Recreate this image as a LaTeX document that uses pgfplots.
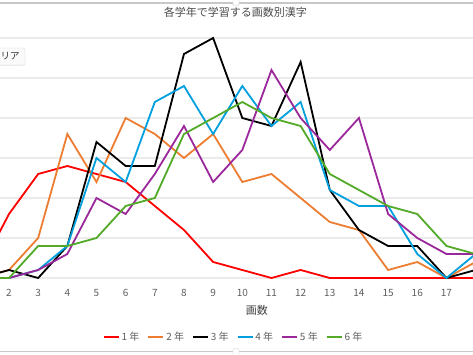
\documentclass[border=0pt]{standalone}
\usepackage{fontspec}
\setmainfont{Noto Sans CJK JP}
\usepackage{pgfplots}
\pgfplotsset{compat=1.18}
\usetikzlibrary{shadows}
\definecolor{c1}{RGB}{255,0,0}
\definecolor{c2}{RGB}{237,125,49}
\definecolor{c3}{RGB}{0,0,0}
\definecolor{c4}{RGB}{0,160,222}
\definecolor{c5}{RGB}{155,40,155}
\definecolor{c6}{RGB}{82,170,40}
\definecolor{gridc}{RGB}{235,235,235}
\definecolor{txt}{RGB}{95,95,95}
\definecolor{uil}{RGB}{200,200,200}
\begin{document}
\begin{tikzpicture}
\path[use as bounding box] (0,0) rectangle (473bp,355bp);
\fill[white] (0,0) rectangle (473bp,355bp);
\draw[uil, line width=1.3bp] (0,352bp) -- (473bp,352bp);
\draw[uil, line width=1.3bp] (0,3.7bp) -- (473bp,3.7bp);
\begin{axis}[
  at={(0bp,73.8bp)}, anchor=south west, scale only axis,
  width=473bp, height=246.4bp,
  xmin=1.6913, xmax=17.9106, ymin=-0.4, ymax=30.4,
  xtick={2,...,17}, ytick={0,5,...,30}, yticklabels={},
  axis line style={draw=none}, major tick length=0pt,
  ymajorgrids, grid style={gridc, line width=1.5bp},
  /pgf/number format/assume math mode=true,
  ticklabel style={font=\fontsize{10bp}{12bp}\selectfont, text=txt},
  xticklabel style={anchor=center, yshift=-12.1bp},
  title={各学年で学習する画数別漢字},
  title style={at={(axis description cs:0.4975,1.067)}, anchor=center, font=\fontsize{11bp}{13bp}\selectfont, text=black!70},
  xlabel={画数},
  xlabel style={at={(axis description cs:0.5433,-0.1169)}, anchor=center, font=\fontsize{11bp}{13bp}\selectfont, text=black!75},
  legend columns=6,
  legend style={at={(axis description cs:0.2171,-0.2252)}, anchor=west, draw=none, fill=none, inner sep=0pt,
    font=\fontsize{10bp}{12bp}\selectfont, text=txt,
    /tikz/every even column/.append style={column sep=6bp}},
  legend image code/.code={\draw[#1, line width=1.8bp] (0bp,0bp) -- (15bp,0bp);},
  every axis plot/.append style={line width=1.8bp, mark=none},
]
\addplot[c1] coordinates {(1,1)(2,8)(3,13)(4,14)(5,13)(6,12)(7,9)(8,6)(9,2)(10,1)(11,0)(12,1)(13,0)(14,0)(15,0)(16,0)(17,0)(18,0)};
\addplot[c2] coordinates {(1,0)(2,1)(3,5)(4,18)(5,12)(6,20)(7,18)(8,15)(9,18)(10,12)(11,13)(12,10)(13,7)(14,6)(15,1)(16,2)(17,0)(18,2)};
\addplot[c3] coordinates {(1,0)(2,1)(3,0)(4,4)(5,17)(6,14)(7,14)(8,28)(9,30)(10,20)(11,19)(12,27)(13,11)(14,6)(15,4)(16,4)(17,0)(18,1)};
\addplot[c4] coordinates {(1,0)(2,0)(3,1)(4,4)(5,15)(6,12)(7,22)(8,24)(9,18)(10,24)(11,19)(12,22)(13,11)(14,9)(15,9)(16,3)(17,0)(18,3)};
\addplot[c5] coordinates {(1,0)(2,0)(3,1)(4,3)(5,10)(6,8)(7,13)(8,19)(9,12)(10,16)(11,26)(12,20)(13,16)(14,20)(15,8)(16,5)(17,3)(18,3)};
\addplot[c6] coordinates {(1,0)(2,0)(3,4)(4,4)(5,5)(6,9)(7,10)(8,18)(9,20)(10,22)(11,20)(12,19)(13,13)(14,11)(15,9)(16,8)(17,4)(18,3)};
\legend{1 年, 2 年, 3 年, 4 年, 5 年, 6 年}
\end{axis}
\draw[uil, fill=white, rounded corners=1bp] (233bp,349.5bp) rectangle (239bp,356bp);
\draw[uil, fill=white, rounded corners=1bp] (233bp,-1bp) rectangle (239bp,6.3bp);
\path[draw=black!15, fill=black!2, rounded corners=2bp, drop shadow={opacity=0.12, shadow xshift=0bp, shadow yshift=-1bp}]
  (-6bp,290bp) rectangle (25bp,307bp);
\node[inner sep=0pt, anchor=west, font=\fontsize{9.5bp}{11bp}\selectfont, text=black!80] at (0.5bp,298.5bp) {リア};
\end{tikzpicture}
\end{document}
